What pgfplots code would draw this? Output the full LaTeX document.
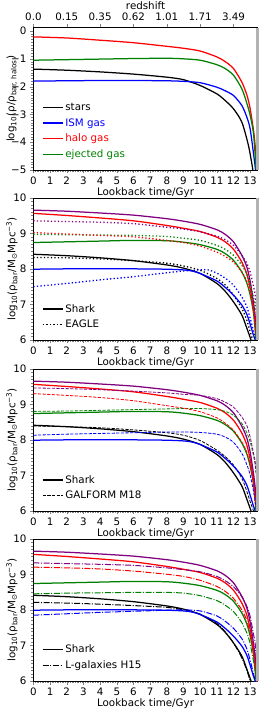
\documentclass[border=0pt]{standalone}
\usepackage{fontspec}
\setmainfont{DejaVu Sans}
\usepackage{pgfplots}
\pgfplotsset{compat=1.18}
\definecolor{mpurple}{RGB}{128,0,128}
\definecolor{mgreen}{RGB}{0,128,0}
\definecolor{mblue}{RGB}{0,0,255}
\definecolor{mred}{RGB}{255,0,0}
\pgfplotsset{
  panel/.style={
    scale only axis, width=224.3pt, height=142.3pt,
    xmin=0, xmax=13.45,
    xtick={0,...,13},
    minor x tick num=9,
    minor y tick num=9,
    tick align=outside,
    major tick length=3.5pt, minor tick length=2pt,
    xtick pos=bottom, ytick pos=left,
    /pgf/number format/assume math mode=true,
    tick label style={font=\fontsize{10.3}{12}\selectfont},
    label style={font=\fontsize{10.3}{12}\selectfont},
    xlabel={Lookback time/Gyr},
    xlabel style={at={(axis description cs:0.5,-0.1827)}, anchor=base},
    ylabel style={at={(axis description cs:-0.0958,0.5)}, anchor=center},
    clip mode=individual,
    legend cell align=left,
    legend style={draw=none, fill=none, font=\fontsize{10.3}{12}\selectfont, inner sep=0pt, row sep=2.5pt},
    legend image code/.code={\draw[##1] (0pt,0pt) -- (20pt,0pt);},
    every axis plot/.append style={line width=1.25pt, smooth, tension=0.45},
  },
  eagle/.style={line width=1.3pt, dash pattern=on 1.3pt off 2.2pt},
  galform/.style={line width=0.8pt, dash pattern=on 3.2pt off 1.4pt},
  lgal/.style={line width=1pt, dash pattern=on 6pt off 1.6pt on 1pt off 1.6pt},
}
\newcommand{\grayband}{\draw[gray!60, line width=3pt] (rel axis cs:1,0) -- (rel axis cs:1,1);}
\newcommand{\sharklines}{%
\addplot[mblue, forget plot] coordinates {(0,7.99)(2,8.0)(4,8.0)(6,8.0)(8,7.99)(9,7.97)(9.5,7.94)(10,7.87)(11,7.66)(11.5,7.48)(12,7.26)(12.5,6.98)(12.8,6.72)(13,6.44)(13.2,6.13)(13.3,6.0)(13.35,5.9)};
\addplot[mgreen, forget plot] coordinates {(0,8.74)(2,8.76)(4,8.78)(6,8.80)(8,8.79)(9,8.75)(10,8.68)(11,8.55)(11.5,8.43)(12,8.24)(12.5,7.91)(12.8,7.6)(13,7.26)(13.2,6.75)(13.35,6.0)(13.4,5.8)};
\addplot[mred, forget plot] coordinates {(0,9.56)(2,9.50)(4,9.43)(6,9.35)(8,9.22)(9,9.14)(10,9.05)(11,8.89)(11.5,8.76)(12,8.55)(12.5,8.19)(12.8,7.85)(13,7.45)(13.2,6.85)(13.3,6.5)(13.4,6.0)(13.45,5.8)};
\addplot[mpurple, forget plot] coordinates {(0,9.65)(2,9.62)(4,9.57)(6,9.51)(8,9.41)(9,9.34)(10,9.25)(11,9.10)(11.5,8.97)(12,8.76)(12.5,8.38)(12.8,8.05)(13,7.65)(13.2,7.05)(13.3,6.65)(13.42,6.0)(13.45,5.8)};
}
\newcommand{\sharkblack}{%
\addplot[black] coordinates {(0,8.41)(2,8.37)(4,8.31)(6,8.23)(8,8.11)(9,8.02)(10,7.87)(11,7.59)(11.5,7.37)(12,7.07)(12.5,6.70)(12.8,6.33)(13.05,6.0)(13.1,5.9)};
\addlegendentry{Shark}
}
\begin{document}
\begin{tikzpicture}
\useasboundingbox (0,0) rectangle (269pt,716pt);
% ---------------- panel 1 top axis (redshift)
\begin{axis}[scale only axis, width=224.3pt, height=142.3pt,
  at={(33.4pt,546pt)}, anchor=south west,
  xmin=0, xmax=13.45, ymin=0, ymax=1,
  axis x line*=top, axis y line=none,
  tick align=outside, major tick length=3.5pt,
  xtick={0,2,4,6,8,10,12},
  xticklabels={0.0,0.15,0.35,0.62,1.01,1.71,3.49},
  tick label style={font=\fontsize{10.3}{12}\selectfont},
  xlabel={redshift}, label style={font=\fontsize{10.3}{12}\selectfont},
  xlabel style={at={(axis description cs:0.5,1.13)}, anchor=base}]
\end{axis}
% ---------------- panel 1
\begin{axis}[panel, at={(33.4pt,546pt)}, anchor=south west,
  ymin=-5, ymax=0.12,
  ytick={-5,-4,-3,-2,-1,0},
  yticklabels={−5,−4,−3,−2,−1,0},
  ylabel={log\textsubscript{10}(ρ/ρ\textsubscript{bar, halos})},
  legend style={at={(rel axis cs:0.038,0.06)}, anchor=south west}]
\addplot[black] coordinates {(0,-1.37)(2,-1.41)(4,-1.47)(6,-1.55)(8,-1.66)(9,-1.75)(10,-1.96)(11,-2.26)(11.5,-2.50)(12,-2.80)(12.5,-3.28)(12.9,-4.13)(13.16,-5.0)(13.2,-5.3)};
\addlegendentry{\textcolor{black}{stars}}
\addplot[mblue] coordinates {(0,-1.80)(2,-1.79)(4,-1.78)(6,-1.78)(8,-1.79)(9,-1.81)(10,-1.86)(11,-2.02)(11.5,-2.15)(12,-2.32)(12.5,-2.68)(12.8,-3.1)(13,-3.53)(13.24,-4.6)(13.32,-5.0)(13.35,-5.3)};
\addlegendentry{\textcolor{mblue}{ISM gas}}
\addplot[mred] coordinates {(0,-0.21)(2,-0.25)(4,-0.33)(6,-0.42)(8,-0.55)(9,-0.62)(10,-0.72)(11,-0.93)(11.5,-1.10)(12,-1.35)(12.5,-1.84)(12.8,-2.3)(13,-2.80)(13.24,-3.77)(13.42,-5.0)(13.45,-5.3)};
\addlegendentry{\textcolor{mred}{halo gas}}
\addplot[mgreen] coordinates {(0,-1.05)(2,-1.03)(4,-1.01)(6,-0.99)(8,-0.98)(9,-1.0)(10,-1.05)(11,-1.21)(11.5,-1.35)(12,-1.59)(12.5,-2.08)(12.8,-2.6)(13,-3.04)(13.2,-3.7)(13.36,-5.0)(13.4,-5.3)};
\addlegendentry{\textcolor{mgreen}{ejected gas}}
\grayband
\end{axis}
% ---------------- panel 2 EAGLE
\begin{axis}[panel, at={(33.4pt,376pt)}, anchor=south west,
  ymin=6, ymax=10, ytick={6,7,8,9,10},
  ylabel={log\textsubscript{10}(ρ\textsubscript{bar}/M\textsubscript{⊙}Mpc\textsuperscript{−3})},
  legend style={at={(rel axis cs:0.038,0.06)}, anchor=south west}]
\sharkblack
\addplot[black, eagle] coordinates {(0,8.32)(2,8.31)(4,8.28)(6,8.23)(8,8.16)(9,8.08)(10,7.96)(11,7.73)(11.5,7.55)(12,7.26)(12.5,6.89)(12.8,6.55)(13,6.23)(13.15,6.0)(13.25,5.7)};
\addlegendentry{EAGLE}
\sharklines
\addplot[mblue, eagle, forget plot] coordinates {(0,7.50)(2,7.59)(4,7.69)(6,7.78)(8,7.89)(9,7.94)(10,7.97)(10.5,7.97)(11,7.88)(11.5,7.74)(12,7.54)(12.5,7.21)(12.8,6.93)(13,6.61)(13.2,6.25)(13.3,6.0)(13.35,5.8)};
\addplot[mgreen, eagle, forget plot] coordinates {(0,8.97)(2,8.96)(4,8.95)(6,8.94)(8,8.91)(9,8.86)(10,8.80)(11,8.66)(11.5,8.55)(12,8.38)(12.5,8.10)(12.8,7.85)(13,7.54)(13.2,7.2)(13.3,6.98)(13.45,6.5)};
\addplot[mred, eagle, forget plot] coordinates {(0,9.02)(2,8.98)(4,8.94)(6,8.90)(8,8.80)(9,8.74)(10,8.64)(11,8.47)(11.5,8.35)(12,8.19)(12.5,7.91)(12.8,7.65)(13,7.35)(13.2,6.9)(13.3,6.6)(13.42,6.0)(13.45,5.9)};
\addplot[mpurple, eagle, forget plot] coordinates {(0,9.35)(2,9.33)(4,9.31)(6,9.27)(8,9.17)(9,9.12)(10,9.04)(11,8.92)(11.5,8.82)(12,8.66)(12.5,8.38)(12.8,8.15)(13,7.91)(13.2,7.5)(13.3,7.26)(13.45,6.6)};
\grayband
\end{axis}
% ---------------- panel 3 GALFORM
\begin{axis}[panel, at={(33.4pt,205pt)}, anchor=south west,
  ymin=6, ymax=10, ytick={6,7,8,9,10},
  ylabel={log\textsubscript{10}(ρ\textsubscript{bar}/M\textsubscript{⊙}Mpc\textsuperscript{−3})},
  legend style={at={(rel axis cs:0.038,0.06)}, anchor=south west}]
\sharkblack
\addplot[black, galform] coordinates {(0,8.39)(2,8.37)(4,8.34)(6,8.28)(8,8.20)(9,8.13)(10,7.98)(11,7.71)(11.5,7.53)(12,7.29)(12.5,6.92)(12.8,6.55)(13,6.26)(13.2,6.0)(13.25,5.9)};
\addlegendentry{GALFORM M18}
\sharklines
\addplot[mblue, galform, forget plot] coordinates {(0,8.13)(2,8.16)(4,8.18)(6,8.20)(8,8.22)(9,8.22)(10,8.21)(11,8.16)(11.5,8.08)(12,7.93)(12.5,7.62)(12.8,7.3)(13,7.01)(13.2,6.55)(13.3,6.27)(13.4,6.0)(13.45,5.8)};
\addplot[mgreen, galform, forget plot] coordinates {(0,8.80)(2,8.81)(4,8.83)(6,8.85)(8,8.87)(9,8.88)(10,8.88)(11,8.85)(11.5,8.80)(12,8.69)(12.5,8.46)(12.8,8.2)(13,7.94)(13.2,7.55)(13.3,7.29)(13.45,6.6)};
\addplot[mred, galform, forget plot] coordinates {(0,9.30)(2,9.25)(4,9.19)(6,9.10)(8,8.96)(9,8.89)(10,8.79)(11,8.62)(11.5,8.47)(12,8.27)(12.5,7.94)(12.8,7.65)(13,7.29)(13.2,6.75)(13.3,6.36)(13.4,6.0)(13.45,5.8)};
\addplot[mpurple, galform, forget plot] coordinates {(0,9.46)(2,9.44)(4,9.41)(6,9.37)(8,9.32)(9,9.28)(10,9.25)(11,9.16)(11.5,9.06)(12,8.92)(12.5,8.64)(12.8,8.4)(13,8.08)(13.2,7.62)(13.3,7.38)(13.45,6.6)};
\grayband
\end{axis}
% ---------------- panel 4 L-galaxies
\begin{axis}[panel, at={(33.4pt,35pt)}, anchor=south west,
  ymin=6, ymax=10, ytick={6,7,8,9,10},
  ylabel={log\textsubscript{10}(ρ\textsubscript{bar}/M\textsubscript{⊙}Mpc\textsuperscript{−3})},
  legend style={at={(rel axis cs:0.038,0.06)}, anchor=south west}]
\sharkblack
\addplot[black, lgal] coordinates {(0,8.21)(2,8.19)(4,8.16)(6,8.12)(8,8.07)(9,8.0)(10,7.88)(11,7.62)(11.5,7.38)(12,7.07)(12.5,6.65)(12.8,6.3)(13,6.0)(13.05,5.9)};
\addlegendentry{L-galaxies H15}
\sharklines
\addplot[mblue, lgal, forget plot] coordinates {(0,7.85)(2,7.89)(4,7.93)(6,7.96)(8,7.99)(9,8.0)(10,7.97)(11,7.83)(11.5,7.68)(12,7.48)(12.5,7.19)(12.8,6.9)(13,6.58)(13.2,6.2)(13.3,6.0)(13.35,5.9)};
\addplot[mgreen, lgal, forget plot] coordinates {(0,8.45)(2,8.47)(4,8.48)(6,8.49)(8,8.49)(9,8.47)(10,8.40)(11,8.26)(11.5,8.13)(12,7.95)(12.5,7.64)(12.8,7.35)(13,7.05)(13.2,6.55)(13.3,6.3)(13.4,6.0)(13.45,5.8)};
\addplot[mred, lgal, forget plot] coordinates {(0,9.20)(2,9.18)(4,9.15)(6,9.09)(8,9.00)(9,8.94)(10,8.83)(11,8.66)(11.5,8.52)(12,8.32)(12.5,8.0)(12.8,7.7)(13,7.33)(13.2,6.8)(13.3,6.5)(13.4,6.0)(13.45,5.8)};
\addplot[mpurple, lgal, forget plot] coordinates {(0,9.32)(2,9.30)(4,9.28)(6,9.25)(8,9.18)(9,9.13)(10,9.07)(11,8.94)(11.5,8.82)(12,8.65)(12.5,8.37)(12.8,8.1)(13,7.81)(13.2,7.3)(13.3,7.05)(13.42,6.0)(13.45,5.8)};
\grayband
\end{axis}
\end{tikzpicture}
\end{document}
